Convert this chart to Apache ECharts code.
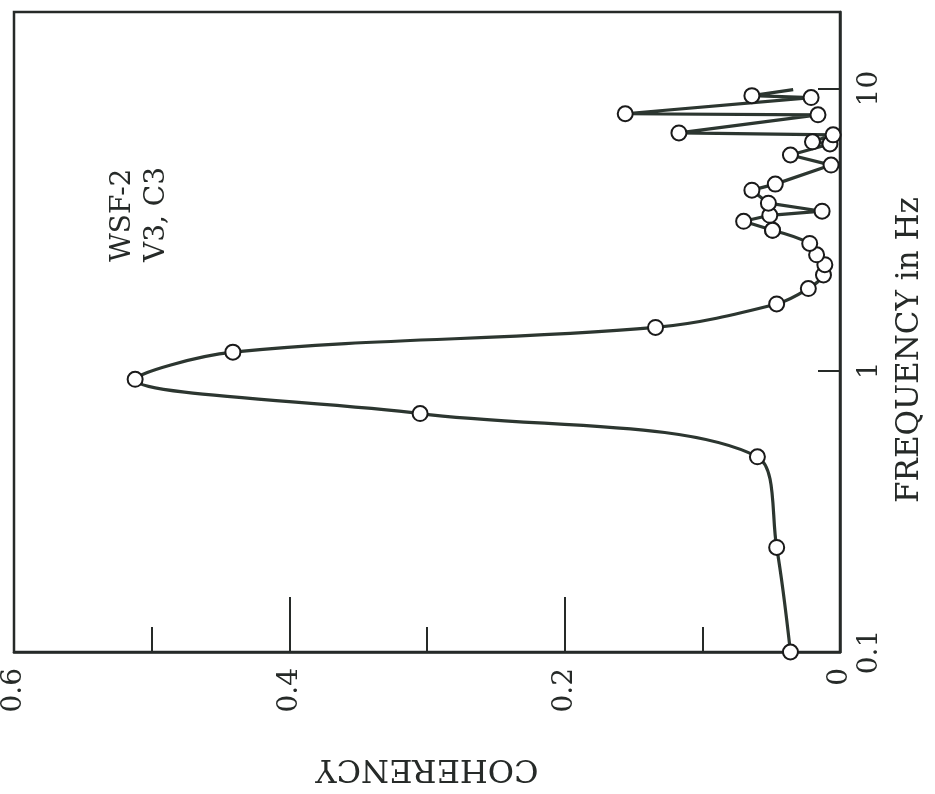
<!DOCTYPE html>
<html>
<head>
<meta charset="utf-8">
<script src="https://cdn.jsdelivr.net/npm/echarts@6/dist/echarts.min.js"></script>
<style>html,body{margin:0;padding:0;background:#fff;}#c{width:935px;height:794px;}</style>
</head>
<body>
<div id="c"></div>
<script>
// Main coherency peak (frequency in Hz, coherency)
const peakFreq = [0.1, 0.235, 0.493, 0.702, 0.929, 1.16, 1.42, 1.72, 1.95, 2.18, 2.37, 2.57, 2.82, 3.14];
const peakCoh  = [0.036, 0.046, 0.060, 0.305, 0.512, 0.441, 0.134, 0.046, 0.023, 0.012, 0.011, 0.017, 0.022, 0.049];
// Spiky high-frequency part
const spikeFreq = [3.14, 3.38, 3.55, 3.67, 3.92, 4.36, 4.58, 5.35, 5.81, 6.36, 6.47, 6.85, 6.96, 8.07, 8.14, 9.29, 9.44, 9.92];
const spikeCoh  = [0.049, 0.070, 0.051, 0.013, 0.052, 0.064, 0.047, 0.0065, 0.036, 0.0073, 0.020, 0.005, 0.117, 0.016, 0.156, 0.021, 0.064, 0.034];
const cohTicks = [0, 0.2, 0.4, 0.6];
const freqTicks = [0.1, 1, 10];
const xTitle = 'COHERENCY';
const yTitle = 'FREQUENCY in Hz';
const noteLines = ['WSF-2', 'V3, C3'];

const FONT = 'DejaVu Serif';
const INK = '#262a28';

const peakData = peakFreq.map((f, i) => [peakCoh[i], f]);
const spikeData = spikeFreq.map((f, i) => {
  const item = { value: [spikeCoh[i], f] };
  if (i === spikeFreq.length - 1) item.symbol = 'none';
  return item;
});

const chart = echarts.init(document.getElementById('c'), null, { renderer: 'canvas' });
const markerStyle = { color: '#fff', borderColor: '#1a1a1a', borderWidth: 2 };

chart.setOption({
  backgroundColor: '#fff',
  animation: false,
  grid: { left: 12, right: 95, top: 12, bottom: 142, show: true, borderColor: INK, borderWidth: 2.5, backgroundColor: 'transparent' },
  xAxis: {
    type: 'value', inverse: true, min: 0, max: 0.6, interval: 0.2, position: 'bottom',
    axisLine: { show: true, lineStyle: { color: INK, width: 2.5 } },
    axisTick: { show: true, inside: true, length: 55, lineStyle: { color: INK, width: 2 } },
    minorTick: { show: true, splitNumber: 2, length: 25, lineStyle: { color: INK, width: 2 } },
    splitLine: { show: false },
    axisLabel: {
      rotate: 90, margin: 16, fontFamily: FONT, fontSize: 28, color: INK,
      formatter: v => cohTicks.some(t => Math.abs(t - v) < 1e-9) ? (v === 0 ? '0' : v.toFixed(1)) : ''
    },
    name: xTitle, nameLocation: 'middle', nameGap: 100, nameRotate: 180,
    nameTextStyle: { fontFamily: FONT, fontSize: 32, color: INK }
  },
  yAxis: {
    type: 'log', logBase: 10, min: 0.1, max: 18.7, position: 'right',
    axisLine: { show: true, lineStyle: { color: INK, width: 2.5 } },
    axisTick: { show: true, inside: true, length: 22, lineStyle: { color: INK, width: 2 } },
    splitLine: { show: false },
    axisLabel: {
      rotate: 90, margin: 16, fontFamily: FONT, fontSize: 28, color: INK, showMaxLabel: false,
      formatter: v => {
        const t = freqTicks.find(t => Math.abs(t - v) / t < 1e-6);
        return t === undefined ? '' : String(t);
      }
    }
  },
  series: [
    {
      type: 'line', data: peakData, smooth: 0.35,
      symbol: 'circle', symbolSize: 15, showAllSymbol: true,
      lineStyle: { color: '#2c3630', width: 3.2 }, itemStyle: markerStyle, z: 3
    },
    {
      type: 'line', data: spikeData, smooth: false,
      symbol: 'circle', symbolSize: 15, showAllSymbol: true,
      lineStyle: { color: '#2c3630', width: 3.2 }, itemStyle: markerStyle, z: 3
    }
  ],
  graphic: [
    { type: 'text', x: 109, y: 262, rotation: Math.PI / 2,
      style: { text: noteLines[0], font: '28px "DejaVu Serif"', fill: INK, textAlign: 'left', textVerticalAlign: 'top' } },
    { type: 'text', x: 143, y: 262, rotation: Math.PI / 2,
      style: { text: noteLines[1], font: '28px "DejaVu Serif"', fill: INK, textAlign: 'left', textVerticalAlign: 'top' } },
    { type: 'text', x: 894, y: 350, rotation: Math.PI / 2,
      style: { text: yTitle, font: '31px "DejaVu Serif"', fill: INK, textAlign: 'center', textVerticalAlign: 'top' } }
  ]
});
</script>
</body>
</html>
